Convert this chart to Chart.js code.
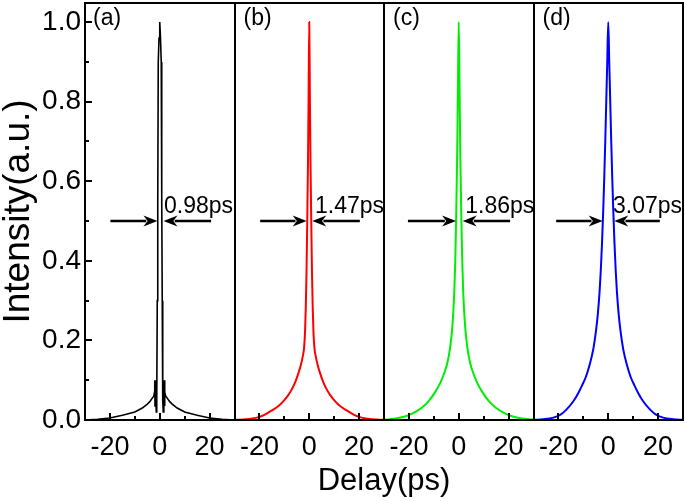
<!DOCTYPE html>
<html><head><meta charset="utf-8">
<script src="https://cdn.jsdelivr.net/npm/chart.js@4/dist/chart.umd.min.js"></script>
<style>html,body{margin:0;padding:0;background:#fff}#wrap{width:685px;height:501px}</style>
</head><body><div id="wrap"><canvas id="c" width="685" height="501"></canvas></div>
<script>
// ---- data ----
const panelLabels = ['(a)', '(b)', '(c)', '(d)'];
const fwhmLabels = ['0.98ps', '1.47ps', '1.86ps', '3.07ps'];

const delayA = [-30,-25,-20,-15,-10,-7,-5,-4,-3,-2.4,-2.1,-2.0,-1.9,-1.8,-1.7,-1.6,-1.4,-1.2,-1.0,-0.8,-0.6,-0.3,0,0.3,0.6,0.8,1.0,1.2,1.4,1.6,1.7,1.8,1.9,2.0,2.1,2.4,3,4,5,7,10,15,20,25,30];
const intensityA = [0,0.002,0.005,0.012,0.02,0.03,0.04,0.046,0.055,0.06,0.07,0.10,0.035,0.10,0.035,0.08,0.02,0.05,0.3,0.55,0.9,0.96,1.0,0.96,0.9,0.55,0.3,0.05,0.02,0.08,0.035,0.10,0.035,0.10,0.07,0.06,0.055,0.046,0.04,0.03,0.02,0.012,0.005,0.002,0];

const delayB = [-30,-25,-21,-18,-15,-12,-10,-8.5,-7,-5.5,-4.5,-3.5,-2.6,-2.1,-1.7,-1.4,-1.1,-0.8,-0.5,-0.25,0,0.25,0.5,0.8,1.1,1.4,1.7,2.1,2.6,3.5,4.5,5.5,7,8.5,10,12,15,18,21,25,30];
const intensityB = [0.0005,0.002,0.006,0.013,0.024,0.037,0.05,0.062,0.077,0.097,0.115,0.135,0.16,0.18,0.22,0.28,0.37,0.5,0.65,0.82,1.0,0.82,0.65,0.5,0.37,0.28,0.22,0.18,0.16,0.135,0.115,0.097,0.077,0.062,0.05,0.037,0.024,0.013,0.006,0.002,0.0005];

const delayC = [-30,-26,-22,-18.7,-15,-12,-9.5,-7.5,-6,-4.7,-3.5,-2.5,-1.8,-1.4,-1.0,-0.6,-0.3,0,0.3,0.6,1.0,1.4,1.8,2.5,3.5,4.7,6,7.5,9.5,12,15,18.7,22,26,30];
const intensityC = [0.001,0.003,0.008,0.016,0.03,0.048,0.07,0.092,0.115,0.14,0.18,0.24,0.32,0.40,0.52,0.68,0.85,1.0,0.85,0.68,0.52,0.40,0.32,0.24,0.18,0.14,0.115,0.092,0.07,0.048,0.03,0.016,0.008,0.003,0.001];

const delayD = [-30,-26,-22,-19,-16.8,-14,-12,-10.5,-9,-7.5,-6,-5,-4.2,-3.5,-3.0,-2.5,-2.0,-1.6,-1.2,-0.8,-0.4,0,0.4,0.8,1.2,1.6,2.0,2.5,3.0,3.5,4.2,5,6,7.5,9,10.5,12,14,16.8,19,22,26,30];
const intensityD = [0.0005,0.002,0.006,0.014,0.026,0.047,0.068,0.087,0.108,0.138,0.178,0.22,0.265,0.32,0.375,0.445,0.53,0.61,0.70,0.80,0.90,1.0,0.90,0.80,0.70,0.61,0.53,0.445,0.375,0.32,0.265,0.22,0.178,0.138,0.108,0.087,0.068,0.047,0.026,0.014,0.006,0.002,0.0005];

const xMajorTicks = [-20, 0, 20];
const xMinorTicks = [-10, 10];
const yMajorTicks = [0, 0.2, 0.4, 0.6, 0.8, 1.0];
const yMinorTicks = [0.1, 0.3, 0.5, 0.7, 0.9];

// ---- layout of the four panels on one shared axis ----
const PANEL_SPAN = 60;        // each panel shows -30..30
const delays = [delayA, delayB, delayC, delayD];
const intensities = [intensityA, intensityB, intensityC, intensityD];
const colors = ['#000000', '#ff0000', '#00ee00', '#0000ff'];

const datasets = delays.map((d, i) => ({
  data: d.map((x, k) => ({ x: x + i * PANEL_SPAN, y: intensities[i][k] })),
  borderColor: colors[i],
  borderWidth: i === 0 ? 1.6 : 2,
  pointRadius: 0,
  tension: i === 0 ? 0 : 0.4,
  cubicInterpolationMode: i === 0 ? 'default' : 'monotone',
  fill: false
}));

const FONT = '"Liberation Sans", Arial, sans-serif';

const decor = {
  id: 'decor',
  afterDatasetsDraw(chart) {
    const ctx = chart.ctx, xs = chart.scales.x, ys = chart.scales.y;
    const a = chart.chartArea;
    ctx.save();
    ctx.strokeStyle = '#000';
    ctx.fillStyle = '#000';
    ctx.lineWidth = 2;
    for (let i = 0; i < 4; i++) {
      const c = i * PANEL_SPAN;
      xMajorTicks.forEach(t => { const px = Math.round(xs.getPixelForValue(c + t)); ctx.beginPath(); ctx.moveTo(px, a.bottom); ctx.lineTo(px, a.bottom - 7); ctx.stroke(); });
      xMinorTicks.forEach(t => { const px = Math.round(xs.getPixelForValue(c + t)); ctx.beginPath(); ctx.moveTo(px, a.bottom); ctx.lineTo(px, a.bottom - 4); ctx.stroke(); });
    }
    yMajorTicks.forEach(t => { const py = Math.round(ys.getPixelForValue(t)); ctx.beginPath(); ctx.moveTo(a.left, py); ctx.lineTo(a.left + 7, py); ctx.stroke(); });
    yMinorTicks.forEach(t => { const py = Math.round(ys.getPixelForValue(t)); ctx.beginPath(); ctx.moveTo(a.left, py); ctx.lineTo(a.left + 4, py); ctx.stroke(); });
    ctx.lineWidth = 2;
    ctx.strokeRect(a.left, a.top, a.right - a.left, a.bottom - a.top);
    for (let i = 1; i < 4; i++) {
      const px = Math.round(xs.getPixelForValue(i * PANEL_SPAN - PANEL_SPAN / 2));
      ctx.beginPath(); ctx.moveTo(px, a.top); ctx.lineTo(px, a.bottom); ctx.stroke();
    }
    const tips = [[-0.93, 1.5], [-1.04, 1.2], [-1.08, 1.56], [-2.24, 2.4]];
    const tails = [[-19.8, 20.6], [-19.7, 20.3], [-20.4, 20.6], [-20.9, 20.7]];
    const textAt = [1.7, 2.3, 2.6, 1.9];
    const yHalf = ys.getPixelForValue(0.5);
    function arrow(x0, x1, y) {
      const dir = Math.sign(x1 - x0);
      const head = 14, hw = 5.5;
      ctx.lineWidth = 2.5;
      ctx.beginPath(); ctx.moveTo(x0, y); ctx.lineTo(x1 - dir * head * 0.8, y); ctx.stroke();
      ctx.beginPath();
      ctx.moveTo(x1, y);
      ctx.lineTo(x1 - dir * head, y - hw);
      ctx.lineTo(x1 - dir * head * 0.7, y);
      ctx.lineTo(x1 - dir * head, y + hw);
      ctx.closePath(); ctx.fill();
    }
    ctx.font = '23px ' + FONT;
    ctx.textBaseline = 'alphabetic';
    ctx.textAlign = 'left';
    for (let i = 0; i < 4; i++) {
      const c = i * PANEL_SPAN;
      arrow(xs.getPixelForValue(c + tails[i][0]), xs.getPixelForValue(c + tips[i][0]), yHalf);
      arrow(xs.getPixelForValue(c + tails[i][1]), xs.getPixelForValue(c + tips[i][1]), yHalf);
      ctx.fillText(fwhmLabels[i], xs.getPixelForValue(c + textAt[i]), 213);
      ctx.fillText(panelLabels[i], xs.getPixelForValue(c - PANEL_SPAN / 2) + (i === 0 ? 8 : 9), 25);
    }
    ctx.restore();
  }
};

new Chart(document.getElementById('c'), {
  type: 'line',
  data: { datasets },
  options: {
    responsive: false,
    animation: false,
    devicePixelRatio: 1,
    layout: { padding: { top: 3, right: 2, left: 0, bottom: 0 } },
    plugins: { legend: { display: false }, tooltip: { enabled: false } },
    scales: {
      x: {
        type: 'linear',
        min: -PANEL_SPAN / 2,
        max: 4 * PANEL_SPAN - PANEL_SPAN / 2,
        afterFit(s) { s.height = 81; s.paddingLeft = 0; s.paddingRight = 0; },
        afterBuildTicks(s) {
          const t = [];
          for (let i = 0; i < 4; i++) xMajorTicks.forEach(v => t.push({ value: i * PANEL_SPAN + v }));
          s.ticks = t;
        },
        ticks: {
          autoSkip: false, maxRotation: 0, minRotation: 0,
          color: '#000', padding: 11,
          font: { family: FONT, size: 27 },
          callback(v) {
            const r = ((v + PANEL_SPAN / 2) % PANEL_SPAN + PANEL_SPAN) % PANEL_SPAN - PANEL_SPAN / 2;
            return String(Math.round(r));
          }
        },
        grid: { display: false, drawTicks: false },
        border: { display: false },
        title: { display: true, text: 'Delay(ps)', color: '#000', font: { family: FONT, size: 31, lineHeight: 1 }, padding: { top: 0, bottom: 4 } }
      },
      y: {
        min: 0, max: 1.048,
        afterFit(s) { s.width = 85; s.paddingTop = 0; s.paddingBottom = 0; },
        afterBuildTicks(s) { s.ticks = yMajorTicks.map(v => ({ value: v })); },
        ticks: {
          color: '#000', padding: 4,
          font: { family: FONT, size: 28 },
          callback(v) { return Number(v).toFixed(1); }
        },
        grid: { display: false, drawTicks: false },
        border: { display: false },
        title: { display: true, text: 'Intensity(a.u.)', color: '#000', font: { family: FONT, size: 37, lineHeight: 1 }, padding: { top: 0, bottom: 0 } }
      }
    }
  },
  plugins: [decor]
});
</script>
</body></html>
